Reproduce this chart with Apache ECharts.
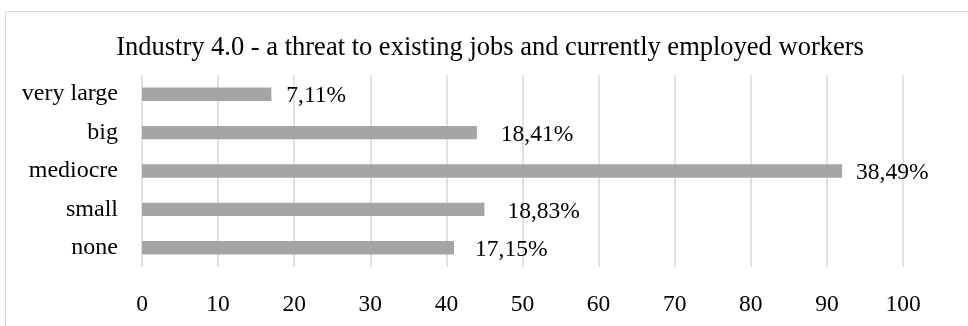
<!DOCTYPE html>
<html>
<head>
<meta charset="utf-8">
<script src="https://cdn.jsdelivr.net/npm/echarts@6/dist/echarts.min.js"></script>
<style>
  html, body { margin: 0; padding: 0; background: #ffffff; }
  #chart { width: 968px; height: 326px; }
</style>
</head>
<body>
<div id="chart"></div>
<script>
// Answer categories, listed bottom to top as they appear on the axis
const categories = ['none', 'small', 'mediocre', 'big', 'very large'];
// Number of respondents per answer
const counts = [41, 45, 92, 44, 17];
// Value axis ticks
const xMin = 0;
const xMax = 100;
const xStep = 10;

const titleText = 'Industry 4.0 - a threat to existing jobs and currently employed workers';

const total = counts.reduce((a, b) => a + b, 0);
const pctLabel = v => (v / total * 100).toFixed(2).replace('.', ',') + '%';

// gap between each bar end and its percentage label
const labelGap = [21, 23, 14, 24, 15];

const FONT = '"Liberation Serif", "Times New Roman", serif';
const TEXT = '#000000';

const chart = echarts.init(document.getElementById('chart'), null, { renderer: 'canvas' });

chart.setOption({
  animation: false,
  backgroundColor: '#ffffff',
  textStyle: { fontFamily: FONT, color: TEXT },
  graphic: [
    {
      type: 'rect',
      shape: { x: 5.5, y: 11.5, width: 1000, height: 400 },
      style: { fill: 'none', stroke: '#d9d9d9', lineWidth: 1 },
      silent: true
    },
    {
      type: 'text',
      x: 490,
      y: 48,
      style: {
        text: titleText,
        font: '26.5px ' + FONT,
        fill: TEXT,
        textAlign: 'center',
        textVerticalAlign: 'middle'
      },
      silent: true
    }
  ],
  grid: { left: 142, right: 65, top: 75, bottom: 59, containLabel: false },
  xAxis: {
    type: 'value',
    min: xMin,
    max: xMax,
    interval: xStep,
    axisLine: { show: false },
    axisTick: { show: false },
    splitLine: { show: true, lineStyle: { color: '#d9d9d9', width: 1.5 } },
    axisLabel: {
      margin: 26,
      fontSize: 23.5,
      fontFamily: FONT,
      color: TEXT
    }
  },
  yAxis: {
    type: 'category',
    data: categories,
    axisLine: { show: false },
    axisTick: { show: false },
    splitLine: { show: false },
    axisLabel: {
      margin: 24,
      fontSize: 24,
      fontFamily: FONT,
      color: TEXT
    }
  },
  series: [
    {
      type: 'bar',
      data: counts.map((v, i) => ({
        value: v,
        label: { distance: labelGap[i] }
      })),
      barCategoryGap: '65%',
      itemStyle: { color: '#a5a5a5' },
      label: {
        show: true,
        position: 'right',
        offset: [0, 2],
        fontSize: 23.5,
        fontFamily: FONT,
        color: TEXT,
        formatter: p => pctLabel(p.value)
      }
    }
  ]
});
</script>
</body>
</html>
